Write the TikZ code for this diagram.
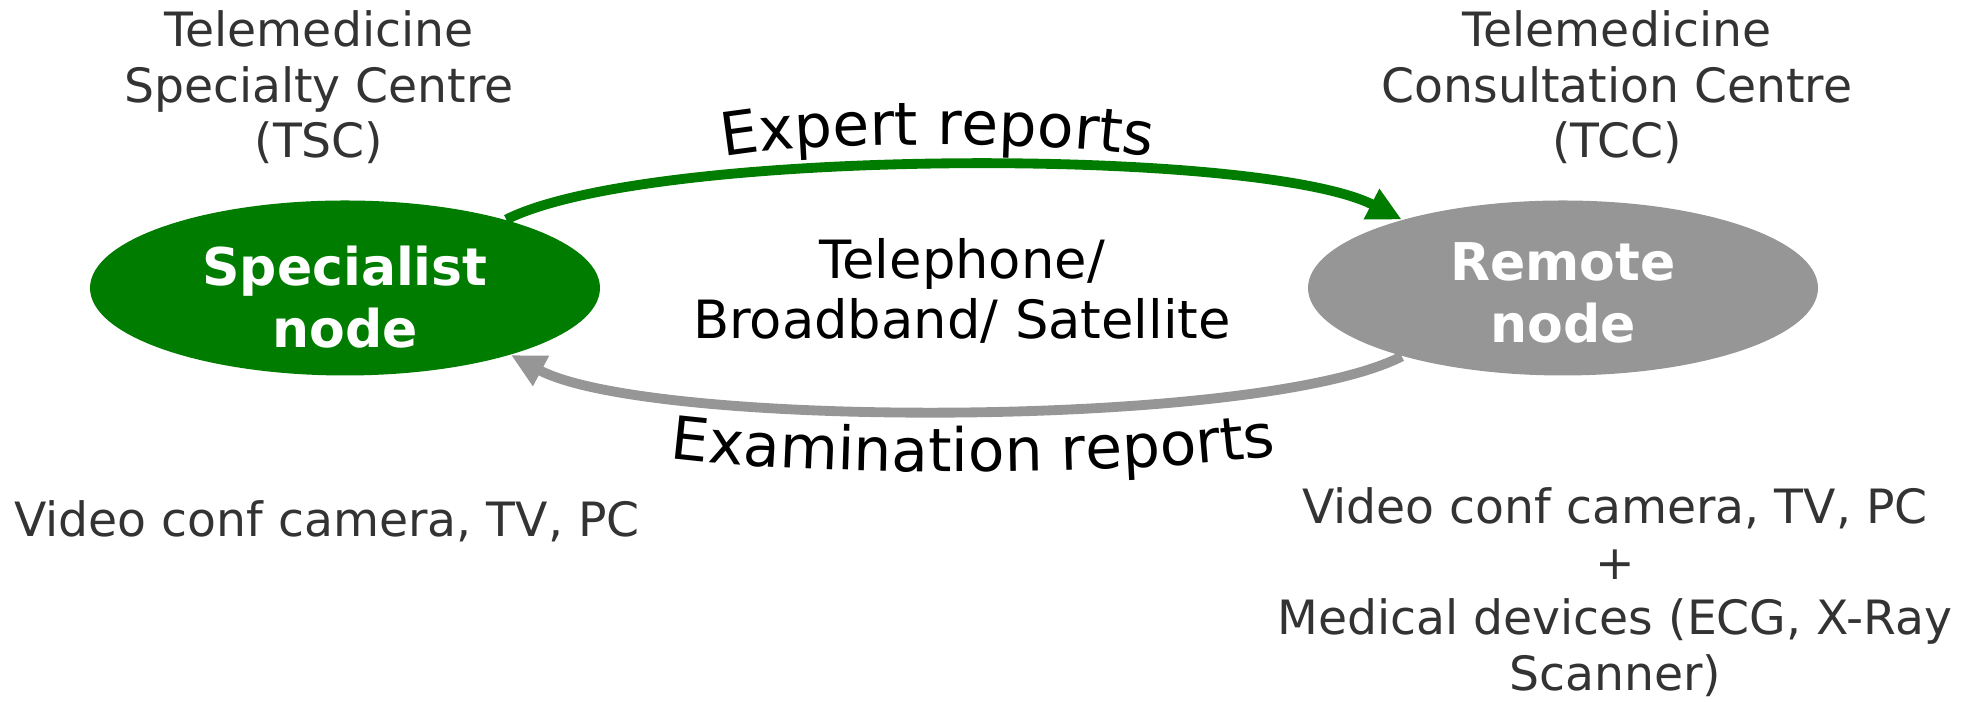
\documentclass[tikz,border=0pt]{standalone}
\usepackage{fontspec}
\setmainfont{DejaVu Sans}
\usepackage{xcolor}
\usepackage{tikz}
\usetikzlibrary{arrows.meta,positioning,shapes.geometric,decorations.text}
\definecolor{specgreen}{RGB}{0,125,0}
\definecolor{remgray}{RGB}{150,150,150}
\definecolor{txtgray}{RGB}{51,51,51}
\newcommand{\flowlabelfont}{\fontsize{17}{20}\selectfont}

\begin{document}
\begin{tikzpicture}[
  site/.style={ellipse,minimum width=5.1cm,minimum height=1.75cm,inner sep=0pt,
    text=white,align=center,font=\fontsize{14.8}{17.6}\selectfont\bfseries},
  caption/.style={align=center,inner sep=0pt,text=txtgray,font=\fontsize{13.45}{15.8}\selectfont},
  flow/.style={line width=2.8pt,-{Triangle[length=3.4mm,width=3.2mm]}}]
  \useasboundingbox (0,0) rectangle (19.79,7.02);
  % the two sites
  \node[site,fill=specgreen] (spec) at (3.45,4.14) {\rule{0pt}{0.57cm}Specialist\\node};
  \node[site,fill=remgray] (rem) at (15.63,4.14) {\rule{0pt}{0.48cm}Remote\\node};
  % centre names and equipment
  \node[caption,anchor=north] (tsc) at (3.19,6.92) {Telemedicine\\Specialty Centre\\(TSC)};
  \node[caption,anchor=north] (tcc) at (16.17,6.92) {Telemedicine\\Consultation Centre\\(TCC)};
  \node[caption,anchor=north] (speceq) at (3.27,2.02) {Video conf camera, TV, PC};
  \node[caption,anchor=north] (remeq) at (16.15,2.15) {Video conf camera, TV, PC\\+\\Medical devices (ECG, X-Ray\\Scanner)};
  \node[anchor=north,align=center,inner sep=0pt,font=\fontsize{15}{17}\selectfont] (link) at (9.62,4.64) {Telephone/\\Broadband/ Satellite};
  % report flows
  \draw[flow,specgreen] (spec.23) .. controls (6.50,5.55) and (12.60,5.55) .. (rem.157);
  \draw[flow,remgray] (rem.203) .. controls (12.60,2.73) and (6.50,2.73) .. (spec.-22);
  \path[decorate,decoration={text along path,text align=center,
    text={|\flowlabelfont|Expert reports}}]
    (7.15,5.43) .. controls (8.00,5.62) and (10.70,5.62) .. (11.60,5.43);
  \path[decorate,decoration={text along path,text align=center,
    text={|\flowlabelfont|Examination reports}}]
    (6.68,2.44) .. controls (8.20,2.25) and (11.20,2.25) .. (12.78,2.47);
\end{tikzpicture}
\end{document}
